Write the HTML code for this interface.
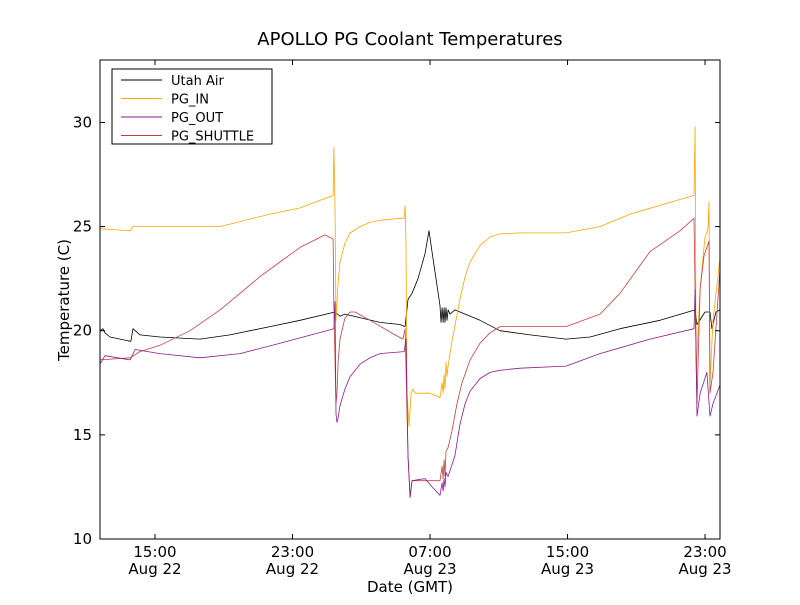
<!DOCTYPE html>
<html><head><meta charset="utf-8"><style>
body{margin:0;background:#fff}
svg text{font-family:"DejaVu Sans","Liberation Sans",sans-serif}
</style></head><body>
<svg id="chart" width="800" height="600" xmlns="http://www.w3.org/2000/svg">
<rect width="800" height="600" fill="#fff"/>
<text x="410" y="45" font-size="18" text-anchor="middle">APOLLO PG Coolant Temperatures</text>
<text x="410" y="592" font-size="15" text-anchor="middle">Date (GMT)</text>
<text transform="translate(69,300) rotate(-90)" font-size="15" text-anchor="middle">Temperature (C)</text>
<g id="series"></g>
<g id="axes"></g>
</svg>
<script>
const xTicks=[15,23,31,39,47];
const xTickTime=["15:00","23:00","07:00","15:00","23:00"];
const xTickDate=["Aug 22","Aug 22","Aug 23","Aug 23","Aug 23"];
const yTicks=[10,15,20,25,30];
const seriesNames=["Utah Air","PG_IN","PG_OUT","PG_SHUTTLE"];
const airT=[11.80,11.97,12.09,12.38,13.55,13.60,13.72,14.13,15.29,17.62,19.36,21.69,23.44,25.47,25.76,26.05,28.09,29.25,29.55,29.72,29.95,30.30,30.71,30.94,31.17,31.58,31.64,31.70,31.76,31.82,31.87,31.93,31.99,32.05,32.16,32.45,33.91,35.07,36.82,38.91,40.31,42.05,44.38,46.42,46.53,47.00,47.29,47.40,47.63,47.87];
const airV=[20.0,20.1,19.9,19.7,19.5,19.5,20.1,19.8,19.7,19.6,19.8,20.2,20.5,20.9,20.7,20.8,20.4,20.3,20.2,21.5,21.8,22.5,23.7,24.8,23.5,21.2,20.4,21.1,20.4,21.1,20.4,21.1,20.5,21.0,20.8,21.0,20.5,20.0,19.8,19.6,19.7,20.1,20.5,21.0,20.3,20.9,20.9,20.1,20.9,21.0];
const inT=[11.80,13.55,13.72,15.29,18.78,21.69,23.44,25.36,25.41,25.47,25.53,25.65,25.76,26.05,26.35,26.93,27.51,28.09,29.25,29.49,29.55,29.60,29.66,29.78,29.90,30.01,30.13,30.42,31.00,31.58,31.70,31.76,31.82,31.87,31.93,31.99,32.05,32.28,32.74,33.04,33.33,33.91,34.49,35.07,36.24,38.91,40.89,42.64,46.36,46.42,46.48,46.71,47.00,47.17,47.23,47.29,47.46,47.87];
const inV=[24.9,24.8,25.0,25.0,25.0,25.6,25.9,26.5,28.8,26.0,20.5,22.3,23.3,24.2,24.7,25.0,25.2,25.3,25.4,25.4,26.0,24.2,17.0,15.4,17.0,17.2,17.0,17.0,17.0,16.8,17.5,17.0,17.9,17.2,18.5,17.8,18.3,19.5,21.5,22.6,23.3,24.1,24.5,24.65,24.7,24.7,25.0,25.6,26.5,29.8,18.0,22.0,24.5,24.9,26.2,17.5,20.5,23.5];
const outT=[11.80,12.09,13.55,13.84,15.29,17.62,19.95,22.27,25.41,25.47,25.53,25.59,25.65,25.76,26.05,26.35,26.93,27.51,28.09,29.49,29.60,29.72,29.84,29.95,30.71,31.12,31.58,31.70,31.76,31.82,31.87,31.93,32.05,32.45,32.74,33.04,33.33,33.91,34.49,35.07,36.24,38.91,40.89,43.80,46.36,46.42,46.53,46.71,47.11,47.29,47.46,47.87];
const outV=[18.4,18.8,18.6,19.1,18.9,18.7,18.9,19.4,20.1,21.4,16.0,15.6,15.8,16.4,17.2,17.8,18.4,18.7,18.9,19.0,19.6,14.0,12.0,12.8,12.9,12.5,12.1,12.7,12.3,12.9,12.5,13.2,13.0,14.0,15.5,16.5,17.1,17.7,18.0,18.1,18.2,18.3,18.9,19.6,20.1,22.0,15.9,17.0,18.0,15.9,16.5,17.4];
const shT=[11.80,13.55,14.13,15.29,17.04,18.78,19.95,21.11,22.27,23.44,24.89,25.36,25.41,25.53,25.59,25.65,25.76,26.05,26.35,26.64,27.51,28.96,29.43,29.55,29.72,29.84,29.95,30.42,31.00,31.58,31.70,31.76,31.82,31.87,31.93,32.05,32.28,32.57,32.86,33.33,33.91,34.49,35.07,37.40,38.91,40.89,42.05,43.80,45.54,46.36,46.42,46.53,46.71,46.94,47.23,47.29,47.46,47.87];
const shV=[18.6,18.7,19.0,19.3,20.0,21.0,21.8,22.6,23.3,24.0,24.6,24.4,21.0,16.5,17.0,18.5,19.6,20.6,20.9,20.9,20.5,19.8,19.6,20.1,14.0,12.0,12.8,12.8,12.8,12.8,13.5,12.9,13.8,13.0,14.2,14.4,15.2,16.5,17.5,18.6,19.4,19.9,20.2,20.2,20.2,20.8,21.8,23.8,24.8,25.4,22.0,16.5,22.0,23.6,24.3,17.0,18.0,23.0];
const colors=["#000000","#ffa500","#8b1a8b","#c04040"];
const X0=100,X1=720,Y0=60,Y1=539,TMIN=11.8,TMAX=47.87,VMIN=10,VMAX=33;
function sx(t){return X0+(t-TMIN)/(TMAX-TMIN)*(X1-X0);}
function sy(v){return Y1-(v-VMIN)/(VMAX-VMIN)*(Y1-Y0);}
const NS="http://www.w3.org/2000/svg";
function mk(tag,attrs,parent){const e=document.createElementNS(NS,tag);for(const k in attrs)e.setAttribute(k,attrs[k]);parent.appendChild(e);return e;}
const sg=document.getElementById('series'),ag=document.getElementById('axes');
const allT=[airT,inT,outT,shT],allV=[airV,inV,outV,shV];
const order=[0,1,3,2];
order.forEach(i=>{
 const d=allT[i].map((t,j)=>(j?'L':'M')+sx(t).toFixed(1)+','+sy(allV[i][j]).toFixed(1)).join('');
 const p=mk('path',{d:d,fill:'none',stroke:colors[i],'stroke-width':'0.8','stroke-linejoin':'round'},sg);
 
 
});
const frame=mk('rect',{x:X0,y:Y0,width:X1-X0,height:Y1-Y0,fill:'none',stroke:'#000','stroke-width':'1'},ag);


xTicks.forEach((t,i)=>{
 const x=sx(t);
 mk('line',{x1:x,x2:x,y1:Y1,y2:Y1-5,stroke:'#000'},ag);
 mk('line',{x1:x,x2:x,y1:Y0,y2:Y0+5,stroke:'#000'},ag);
 const a=mk('text',{x:x,y:557,'font-size':'15','text-anchor':'middle'},ag);a.textContent=xTickTime[i];
 
 
 const b=mk('text',{x:x,y:574,'font-size':'15','text-anchor':'middle'},ag);b.textContent=xTickDate[i];
 
 
});
yTicks.forEach(v=>{
 const y=sy(v);
 mk('line',{x1:X0,x2:X0+5,y1:y,y2:y,stroke:'#000'},ag);
 mk('line',{x1:X1,x2:X1-5,y1:y,y2:y,stroke:'#000'},ag);
 const a=mk('text',{x:X0-8,y:y+5,'font-size':'15','text-anchor':'end'},ag);a.textContent=v;
 
 
});
const lg=mk('g',{},ag);


mk('rect',{x:112,y:69,width:160,height:75,fill:'#fff',stroke:'#000'},lg);
seriesNames.forEach((n,i)=>{
 const y=80+i*18.5;
 mk('line',{x1:121,x2:162,y1:y,y2:y,stroke:colors[i]},lg);
 const t=mk('text',{x:171,y:y+5,'font-size':'13'},lg);t.textContent=n;
 
 
});
</script>
</body></html>
